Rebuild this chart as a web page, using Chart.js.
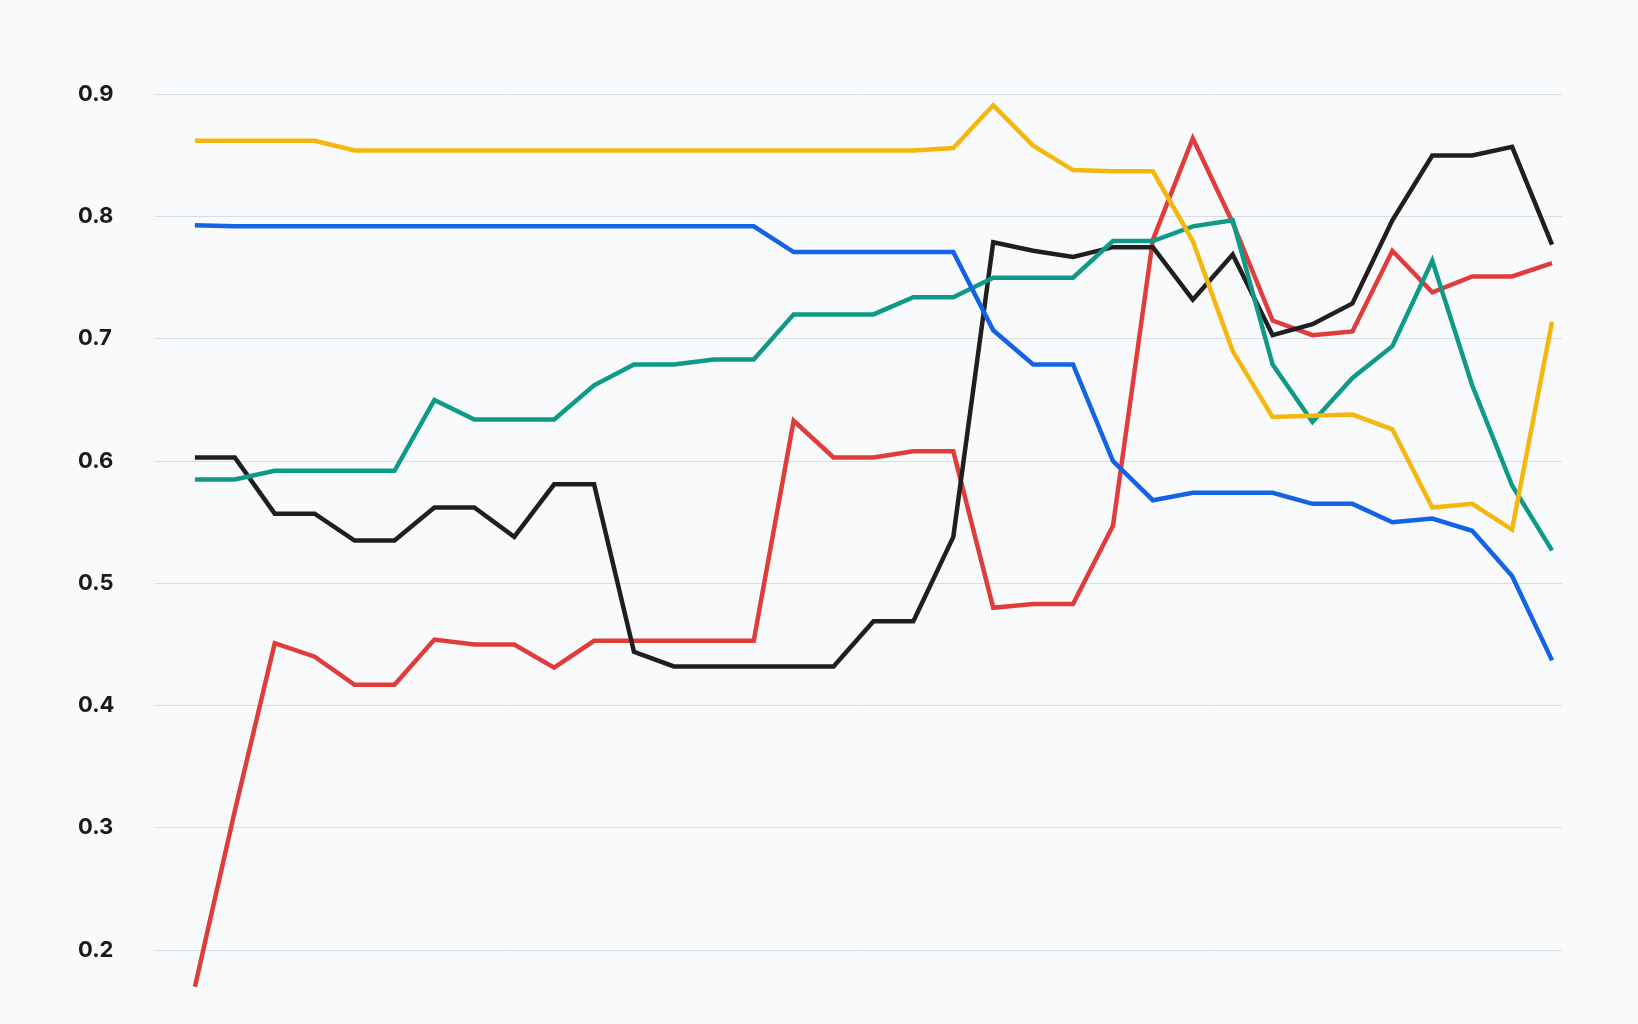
<!DOCTYPE html>
<html>
<head>
<meta charset="utf-8">
<script src="https://cdn.jsdelivr.net/npm/chart.js@4"></script>
<style>
  html, body { margin: 0; padding: 0; background: #f8fafb; }
  #wrap { width: 1638px; height: 1024px; }
</style>
</head>
<body>
<div id="wrap"><canvas id="chart"></canvas></div>
<script>
const yTicks = [0.2, 0.3, 0.4, 0.5, 0.6, 0.7, 0.8, 0.9];

const yellow = [0.862,0.862,0.862,0.862,0.854,0.854,0.854,0.854,0.854,0.854,0.854,0.854,0.854,0.854,0.854,0.854,0.854,0.854,0.854,0.856,0.891,0.858,0.838,0.837,0.837,0.78,0.69,0.636,0.637,0.638,0.626,0.562,0.565,0.544,0.714];
const blue = [0.793,0.792,0.792,0.792,0.792,0.792,0.792,0.792,0.792,0.792,0.792,0.792,0.792,0.792,0.792,0.771,0.771,0.771,0.771,0.771,0.707,0.679,0.679,0.6,0.568,0.574,0.574,0.574,0.565,0.565,0.55,0.553,0.543,0.506,0.437];
const teal = [0.585,0.585,0.592,0.592,0.592,0.592,0.65,0.634,0.634,0.634,0.662,0.679,0.679,0.683,0.683,0.72,0.72,0.72,0.734,0.734,0.75,0.75,0.75,0.78,0.78,0.792,0.797,0.679,0.632,0.668,0.694,0.764,0.662,0.58,0.527];
const black = [0.603,0.603,0.557,0.557,0.535,0.535,0.562,0.562,0.538,0.581,0.581,0.444,0.432,0.432,0.432,0.432,0.432,0.469,0.469,0.538,0.779,0.772,0.767,0.775,0.775,0.732,0.769,0.703,0.712,0.729,0.797,0.85,0.85,0.857,0.777];
const red = [0.17,0.314,0.451,0.44,0.417,0.417,0.454,0.45,0.45,0.431,0.453,0.453,0.453,0.453,0.453,0.633,0.603,0.603,0.608,0.608,0.48,0.483,0.483,0.547,0.781,0.864,0.795,0.715,0.703,0.706,0.772,0.738,0.751,0.751,0.762];

function pts(arr) { return arr.map((v, i) => ({ x: i, y: v })); }
function ds(arr, color) {
  return { data: pts(arr), borderColor: color, borderWidth: 4.5, pointRadius: 0, tension: 0, fill: false };
}

new Chart(document.getElementById('chart').getContext('2d'), {
  type: 'line',
  data: {
    datasets: [
      ds(yellow, '#f5b60f'),
      ds(blue, '#1463e6'),
      ds(teal, '#0e9a86'),
      ds(black, '#1f1f1f'),
      ds(red, '#e03c3c'),
    ],
  },
  options: {
    responsive: true,
    maintainAspectRatio: false,
    animation: false,
    layout: { padding: { left: 78, right: 76, top: 0, bottom: 0 } },
    plugins: { legend: { display: false }, tooltip: { enabled: false } },
    scales: {
      x: { type: 'linear', min: -1, max: 34.25, display: false },
      y: {
        min: 0.1528, max: 0.9639,
        afterBuildTicks: (s) => { s.ticks = yTicks.map(v => ({ value: v })); },
        afterFit: (s) => { s.width = 77; },
        border: { display: false },
        grid: { color: '#d6dde3', lineWidth: 1, drawTicks: false },
        ticks: {
          crossAlign: 'far',
          color: '#1a1a1a',
          font: { family: 'Inter', size: 22, weight: 'bold' },
          callback: (v) => v.toFixed(1),
        },
      },
    },
  },
});
</script>
</body>
</html>
